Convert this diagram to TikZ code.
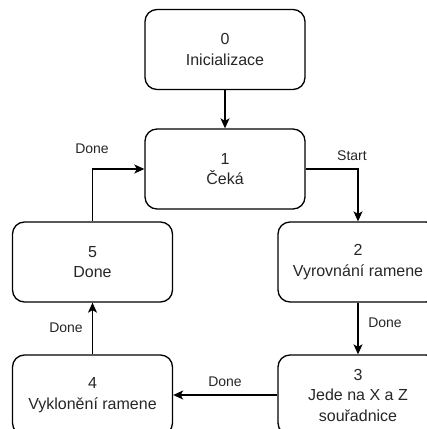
\documentclass[tikz,border=0pt]{standalone}
\usepackage{fontspec}
\setmainfont{Liberation Sans}
\usetikzlibrary{arrows.meta}
\begin{document}
\begin{tikzpicture}[x=1pt,y=-1pt,
  state/.style={draw=black, line width=1.3pt, rounded corners=12pt,
    minimum width=160pt, minimum height=80pt, inner sep=0pt,
    align=center, text=black!85, font=\fontsize{16}{20.5}\selectfont},
  arr/.style={draw=black, line width=1.3pt,
    -{Stealth[length=10pt,width=9pt,inset=2.5pt]}},
  lbl/.style={text=black!85, inner sep=0pt, font=\fontsize{14}{16}\selectfont}]
  \useasboundingbox (0,0) rectangle (427,429);
  \clip (0,0) rectangle (427,429);

  % states of the machine
  \node[state] (s0) at (225,49.5) {0\\Inicializace};
  \node[state] (s1) at (225,169) {1\\Čeká};
  \node[state] (s2) at (358,262) {2\\Vyrovnání ramene};
  \node[state] (s3) at (358,395) {3\\Jede na X a Z\\souřadnice};
  \node[state] (s4) at (92.5,395) {4\\Vyklonění ramene};
  \node[state] (s5) at (92.5,262) {5\\Done};

  % transitions
  \draw[arr] (s0) -- (s1);
  \draw[arr] (s1.east) -| (s2.north);
  \draw[arr] (s2) -- (s3);
  \draw[arr] (s3) -- (s4);
  \draw[arr] (s4) -- (s5);
  \draw[arr] (s5.north) |- (s1.west);

  % transition labels
  \node[lbl] (tStart) at (352,156) {Start};
  \node[lbl] (t51) at (92,149) {Done};
  \node[lbl] (t23) at (385,323) {Done};
  \node[lbl] (t34) at (225,382) {Done};
  \node[lbl] (t45) at (66,328) {Done};
\end{tikzpicture}
\end{document}
